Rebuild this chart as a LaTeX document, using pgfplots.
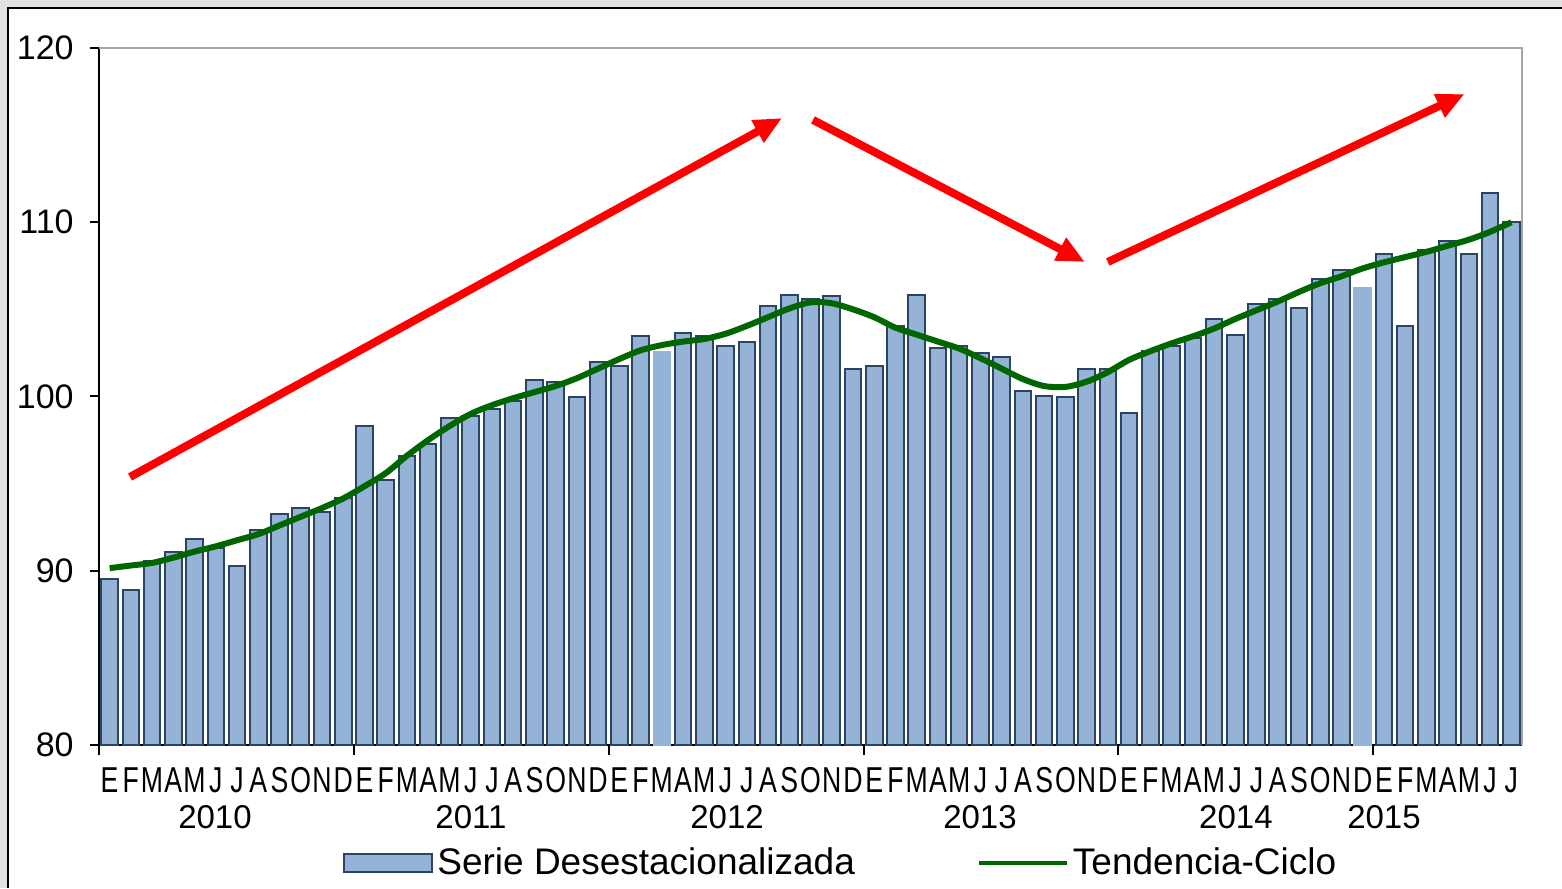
\documentclass[border=0pt]{standalone}
\usepackage{fontspec}
\setmainfont{Liberation Sans}
\usepackage{graphicx}
\usepackage{pgfplots}
\usepackage{pgfplotstable}
\pgfplotsset{compat=1.18}
\usetikzlibrary{arrows.meta}
\definecolor{barfill}{HTML}{95B3D7}
\definecolor{barline}{HTML}{2B4466}
\definecolor{trend}{HTML}{006600}
\definecolor{framegray}{HTML}{E2E2E2}
\definecolor{axgray}{HTML}{A6A6A6}
\newcommand\mm[1]{\scalebox{0.74}[1]{#1}}

\pgfplotstableread{
x y
1 89.55
2 88.9
3 90.55
4 91.1
5 91.8
6 91.3
7 90.3
8 92.35
9 93.25
10 93.6
11 93.4
12 94.2
13 98.3
14 95.2
15 96.6
16 97.25
17 98.75
18 98.9
19 99.3
20 99.75
21 100.95
22 100.85
23 99.95
24 102.0
25 101.75
26 103.45
28 103.65
29 103.45
30 102.9
31 103.15
32 105.2
33 105.85
34 105.6
35 105.75
36 101.6
37 101.75
38 104.05
39 105.85
40 102.8
41 102.9
42 102.5
43 102.25
44 100.3
45 100.05
46 99.95
47 101.6
48 101.6
49 99.05
50 102.6
51 102.9
52 103.35
53 104.45
54 103.55
55 105.3
56 105.6
57 105.1
58 106.75
59 107.25
61 108.2
62 104.05
63 108.4
64 108.9
65 108.2
66 111.65
67 110.0
}\bars

\pgfplotstableread{
x y
27 102.55
60 106.25
}\barsb

\pgfplotstableread{
x y
1 90.15
2 90.3
3 90.45
4 90.75
5 91.1
6 91.4
7 91.75
8 92.1
9 92.6
10 93.1
11 93.6
12 94.15
13 94.85
14 95.6
15 96.6
16 97.5
17 98.3
18 99.0
19 99.5
20 99.9
21 100.25
22 100.6
23 101.05
24 101.6
25 102.15
26 102.65
27 102.95
28 103.15
29 103.3
30 103.6
31 104.05
32 104.55
33 105.05
34 105.4
35 105.35
36 105.0
37 104.55
38 103.95
39 103.55
40 103.15
41 102.75
42 102.2
43 101.6
44 101.0
45 100.6
46 100.55
47 100.85
48 101.4
49 102.1
50 102.6
51 103.05
52 103.45
53 103.9
54 104.45
55 104.95
56 105.45
57 106.0
58 106.5
59 106.9
60 107.35
61 107.7
62 108.0
63 108.3
64 108.65
65 109.0
66 109.45
67 110.0
}\trendtab

\begin{document}
\begin{tikzpicture}
\fill[framegray] (-49.5pt,-71.5pt) rectangle (731.5pt,372.5pt);
\fill[white] (-45.5pt,-71.5pt) rectangle (731.5pt,368.5pt);
\draw[black, line width=0.8pt] (-45.5pt,-71.5pt) -- (-45.5pt,368.5pt) -- (731.5pt,368.5pt);
\begin{axis}[
  at={(0pt,0pt)}, anchor=south west,
  width=711.5pt, height=348.5pt, scale only axis,
  xmin=0.5, xmax=67.5, ymin=80, ymax=120,
  clip mode=individual,
  axis x line*=bottom, axis y line*=left,
  axis line style={line width=1pt, black},
  tick align=outside,
  ytick={80,90,100,110,120},
  major tick length=4.5pt,
  ytick style={black, line width=1pt},
  yticklabel style={font=\fontsize{17}{20}\selectfont, inner sep=0pt, xshift=-8pt, /pgf/number format/assume math mode=true},
  xtick={1,...,67},
  xticklabels={\mm E,\mm F,\mm M,\mm A,\mm M,\mm J,\mm J,\mm A,\mm S,\mm O,\mm N,\mm D,
               \mm E,\mm F,\mm M,\mm A,\mm M,\mm J,\mm J,\mm A,\mm S,\mm O,\mm N,\mm D,
               \mm E,\mm F,\mm M,\mm A,\mm M,\mm J,\mm J,\mm A,\mm S,\mm O,\mm N,\mm D,
               \mm E,\mm F,\mm M,\mm A,\mm M,\mm J,\mm J,\mm A,\mm S,\mm O,\mm N,\mm D,
               \mm E,\mm F,\mm M,\mm A,\mm M,\mm J,\mm J,\mm A,\mm S,\mm O,\mm N,\mm D,
               \mm E,\mm F,\mm M,\mm A,\mm M,\mm J,\mm J},
  major x tick style={draw=none},
  minor xtick={0.5,12.5,24.5,36.5,48.5,60.5},
  minor tick length=5pt,
  minor x tick style={black, line width=1pt},
  xticklabel style={font=\fontsize{18}{20}\selectfont, inner sep=0pt, yshift=-6.5pt},
  legend columns=2,
  legend style={draw=none, fill=none, at={(0.522,-0.169)}, anchor=center,
    font=\fontsize{18.5}{21}\selectfont,
    /tikz/every even column/.append style={column sep=59pt}},
]
\addplot[ybar, bar width=0.78, bar shift=0pt, fill=barfill, draw=barline, line width=1pt,
  legend image code/.code={\draw[fill=barfill, draw=barline, line width=1pt] (0pt,-4.5pt) rectangle (44pt,4.5pt);}]
  table[x=x,y=y]{\bars};
\addlegendentry{Serie Desestacionalizada}
\addplot[ybar, bar width=0.78, bar shift=0pt, fill=barfill, draw=barfill, line width=1pt, forget plot]
  table[x=x,y=y]{\barsb};
\addplot[trend, line width=3pt, smooth, no markers,
  legend image code/.code={\draw[trend, line width=2pt] (0pt,0pt) -- (44pt,0pt);}]
  table[x=x,y=y]{\trendtab};
\addlegendentry{Tendencia-Ciclo}
\draw[axgray, line width=1pt] (rel axis cs:0,1) -- (rel axis cs:1,1) -- (rel axis cs:1,0);
\draw[red, line width=4pt, -{Triangle[length=14pt,width=12pt]}] (axis cs:1.96,95.38) -- (axis cs:32.66,115.98);
\draw[red, line width=4pt, -{Triangle[length=14pt,width=12pt]}] (axis cs:34.12,115.87) -- (axis cs:46.92,107.72);
\draw[red, line width=4pt, -{Triangle[length=14pt,width=12pt]}] (axis cs:48.0,107.72) -- (axis cs:64.8,117.36);
\foreach \yr/\xp in {2010/5.96, 2011/18.01, 2012/30.07, 2013/41.98, 2014/54.03, 2015/61.0}{
  \edef\tmp{\noexpand\node[anchor=north, inner sep=0pt, font=\noexpand\fontsize{16.5}{19}\noexpand\selectfont] at (axis cs:\xp,80) [yshift=-30pt] {\yr};}
  \tmp
}
\end{axis}
\pgfresetboundingbox
\useasboundingbox (-49.5pt,-71.5pt) rectangle (731.5pt,372.5pt);
\end{tikzpicture}
\end{document}
